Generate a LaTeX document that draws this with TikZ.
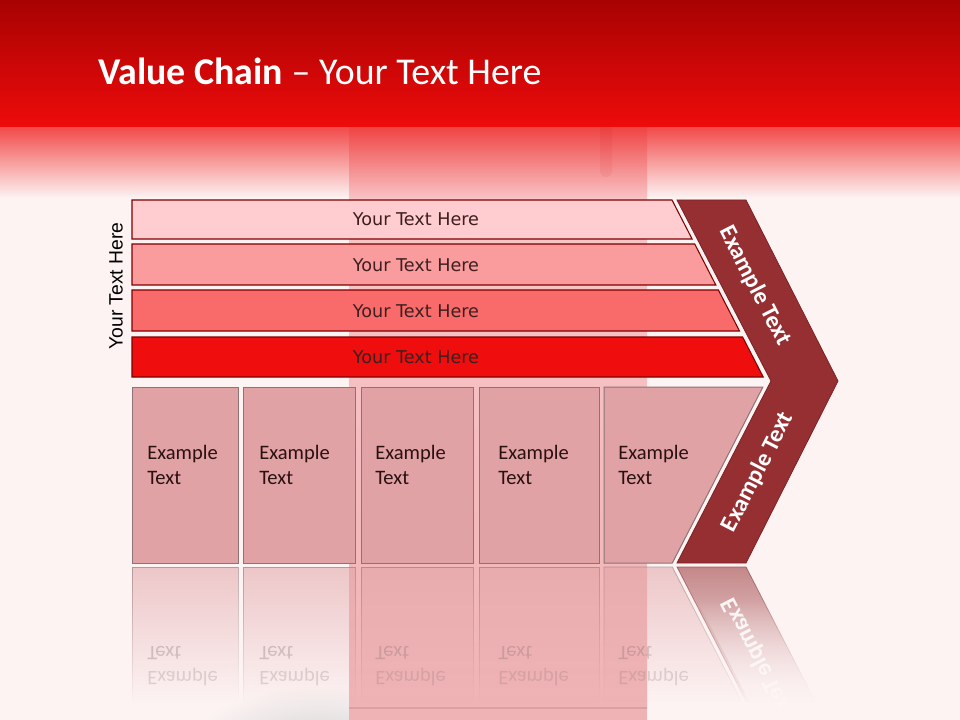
\documentclass[tikz,border=0pt]{standalone}
\usepackage{fontspec}
\setmainfont{Carlito}
\newfontfamily\barfont{DejaVu Sans}
\newfontfamily\sidefont{Liberation Sans}
\usetikzlibrary{fadings}
\definecolor{bgc}{HTML}{FDF3F3}
\definecolor{hdtop}{HTML}{A80202}
\definecolor{hdbot}{HTML}{EE0B0B}
\definecolor{fadetop}{HTML}{F24A4A}
\definecolor{stripetop}{HTML}{EF4444}
\definecolor{stripemid}{HTML}{F9C6C8}
\definecolor{stripebot}{HTML}{F0B3B5}
\definecolor{stripeline}{HTML}{DDA0A2}
\definecolor{barA}{HTML}{FFCDCF}
\definecolor{barB}{HTML}{FA9C9D}
\definecolor{barC}{HTML}{F96B6B}
\definecolor{barD}{HTML}{EF0D0D}
\definecolor{barline}{HTML}{7F0000}
\definecolor{boxfill}{HTML}{E0A2A5}
\definecolor{boxline}{HTML}{8C7374}
\definecolor{chev}{HTML}{962F32}
\definecolor{chevline}{HTML}{7A2225}
\definecolor{bartxt}{HTML}{3D1F1F}
\definecolor{boxtxt}{HTML}{2B1010}
\tikzfading[name=reflfade, top color=transparent!45, middle color=transparent!85, bottom color=transparent!100]
\tikzfading[name=coverfade, top color=transparent!100, bottom color=transparent!0]
\begin{document}
\begin{tikzpicture}[x=0.75pt, y=-0.75pt,
  barshape/.style={draw=barline, line width=0.8pt},
  boxshape/.style={fill=boxfill, draw=boxline, line width=0.75pt},
  bartext/.style={font=\barfont\fontsize{13.2}{15}\selectfont, text=bartxt, inner sep=0pt},
  boxtext/.style={font=\fontsize{15.4}{18}\selectfont, text=boxtxt, inner sep=0pt, anchor=base west},
  mirtext/.style={font=\fontsize{15.4}{18}\selectfont, text=boxline, text opacity=0.35, inner sep=0pt, anchor=base west, yscale=-1},
  chevtext/.style={font=\bfseries\fontsize{18}{20}\selectfont, text=white, inner sep=0pt},
  reflbox/.style={fill=boxfill, draw=boxline, line width=0.6pt, path fading=reflfade}
]
\useasboundingbox (0,0) rectangle (960,720);
\fill[bgc] (0,0) rectangle (960,720);
% soft shadow
\shade[inner color=black!16, outer color=bgc] (320,745) ellipse [x radius=130, y radius=60];
% fade band under header
\shade[top color=fadetop, bottom color=bgc] (0,127) rectangle (960,198);
% vertical stripe
\shade[top color=stripetop, bottom color=stripemid] (349,127) rectangle (647,200);
\shade[top color=stripemid, bottom color=stripebot] (349,200) rectangle (647,708);
\fill[stripebot] (349,708) rectangle (647,720);
\draw[stripeline, line width=1pt] (349,708) -- (647,708);
% drip
\fill[red!70!black, opacity=0.06, rounded corners=4.5pt] (600,120) rectangle (612,177);
% header
\shade[top color=hdtop, bottom color=hdbot] (0,0) rectangle (960,127);
\node[anchor=base west, inner sep=0pt, text=white, font=\fontsize{28.4}{34}\selectfont] (title) at (98,85) {\textbf{Value Chain} -- Your Text Here};
% side label
\node[rotate=90, inner sep=0pt, font=\sidefont\fontsize{14.5}{16}\selectfont] (side) at (116,286) {Your Text Here};
% bars
\draw[barshape, fill=barA] (132,200) -- (672,200) -- (692.1,239) -- (132,239) -- cycle;
\draw[barshape, fill=barB] (132,244) -- (694.7,244) -- (715.8,285) -- (132,285) -- cycle;
\draw[barshape, fill=barC] (132,290) -- (718.4,290) -- (739.5,331) -- (132,331) -- cycle;
\draw[barshape, fill=barD] (132,337) -- (742.6,337) -- (763.2,377) -- (132,377) -- cycle;
\node[bartext] (t1) at (416,219.5) {Your Text Here};
\node[bartext] (t2) at (416,265) {Your Text Here};
\node[bartext] (t3) at (416,311) {Your Text Here};
\node[bartext] (t4) at (416,357) {Your Text Here};
% chevron
\draw[fill=chev, draw=chevline, line width=0.6pt] (677,200) -- (746,200) -- (838,381) -- (746,563) -- (677,563) -- (771,381) -- cycle;
\node[chevtext, rotate=-62.8] (chevA) at (755,286) {Example Text};
\node[chevtext, rotate=62.8] (chevB) at (758,472) {Example Text};
% boxes
\foreach \l/\r/\t [count=\i] in {132/238/147, 243/355/259, 361/473/375, 479/599/498}{
  \draw[boxshape] (\l,387) rectangle (\r,563);
  \node[boxtext] (ex\i) at (\t,459) {Example};
  \node[boxtext] (tx\i) at (\t,484) {Text};
}
\draw[boxshape] (604,387) -- (762.9,387) -- (672.3,563) -- (604,563) -- cycle;
\node[boxtext] (ex5) at (618,459) {Example};
\node[boxtext] (tx5) at (618,484) {Text};
% reflections
\foreach \l/\r/\t [count=\i] in {132/238/147, 243/355/259, 361/473/375, 479/599/498}{
  \path[reflbox] (\l,567) rectangle (\r,702);
  \node[mirtext, text opacity=0.25] (rex\i) at (\t,671) {Example};
  \node[mirtext] (rtx\i) at (\t,646) {Text};
}
\path[reflbox] (604,567) -- (672.3,567) -- (741.8,702) -- (604,702) -- cycle;
\node[mirtext, text opacity=0.25] (rex5) at (618,671) {Example};
\node[mirtext] (rtx5) at (618,646) {Text};
\path[fill=chev, draw=chevline, line width=0.6pt, path fading=reflfade] (677,567) -- (746,567) -- (815.5,702) -- (746.5,702) -- cycle;
\node[chevtext, rotate=-62.8, yscale=-1, text opacity=0.9] (chevR) at (758,658) {Example Text};
\fill[bgc, path fading=coverfade] (697,600) -- (960,600) -- (960,720) -- (759,720) -- cycle;
\end{tikzpicture}
\end{document}
